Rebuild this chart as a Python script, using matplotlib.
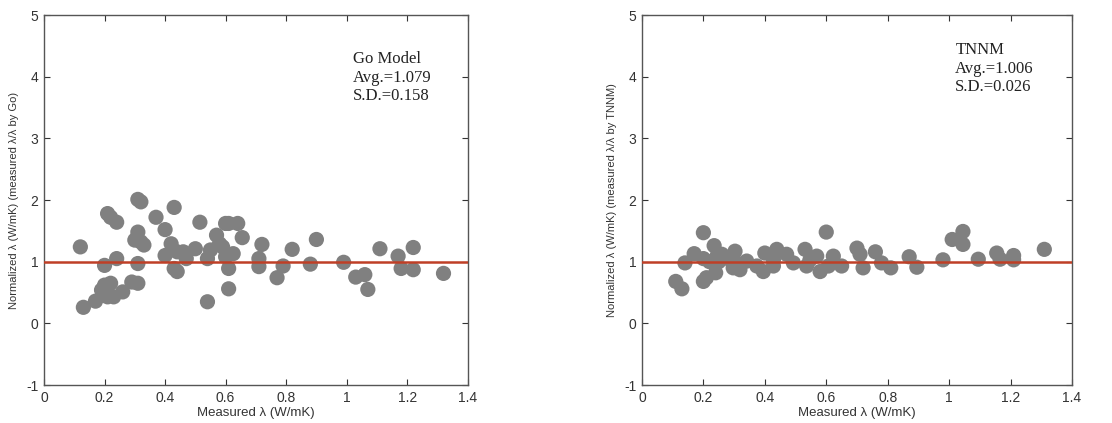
import numpy as np
import matplotlib.pyplot as plt
from matplotlib.ticker import FormatStrFormatter

plt.rcParams["font.family"] = ["Liberation Sans", "DejaVu Sans"]
plt.rcParams["axes.unicode_minus"] = False

# Go model: measured conductivity vs normalized ratio
go_x = [0.12, 0.13, 0.17, 0.19, 0.20, 0.22, 0.21, 0.23, 0.26, 0.20, 0.24, 0.21, 0.22, 0.24,
        0.29, 0.31, 0.31, 0.31, 0.32, 0.31, 0.30, 0.32, 0.33, 0.37, 0.40, 0.43, 0.40, 0.42,
        0.44, 0.46, 0.47, 0.50, 0.43, 0.44, 0.515, 0.55, 0.54, 0.57, 0.58, 0.59, 0.60, 0.61,
        0.64, 0.655, 0.625, 0.60, 0.61, 0.61, 0.54, 0.71, 0.71, 0.72, 0.77, 0.79, 0.82, 0.88,
        0.90, 0.99, 1.03, 1.06, 1.07, 1.11, 1.17, 1.18, 1.22, 1.22, 1.32]
go_y = [1.24, 0.26, 0.36, 0.54, 0.62, 0.65, 0.43, 0.43, 0.51, 0.94, 1.05, 1.78, 1.72, 1.64,
        0.67, 0.65, 0.97, 2.01, 1.97, 1.48, 1.35, 1.32, 1.27, 1.72, 1.52, 1.88, 1.10, 1.29,
        1.16, 1.16, 1.05, 1.21, 0.89, 0.84, 1.64, 1.19, 1.05, 1.43, 1.29, 1.24, 1.62, 1.62,
        1.62, 1.39, 1.13, 1.08, 0.89, 0.56, 0.35, 1.05, 0.92, 1.28, 0.74, 0.93, 1.20, 0.96,
        1.36, 0.99, 0.75, 0.79, 0.55, 1.21, 1.09, 0.89, 1.23, 0.87, 0.81]

# TNNM model
tn_x = [0.11, 0.13, 0.14, 0.17, 0.20, 0.20, 0.21, 0.24, 0.235, 0.20, 0.22, 0.245, 0.25, 0.26,
        0.28, 0.303, 0.308, 0.319, 0.297, 0.341, 0.374, 0.395, 0.40, 0.428, 0.439, 0.471, 0.428,
        0.493, 0.531, 0.536, 0.547, 0.569, 0.58, 0.607, 0.623, 0.60, 0.65, 0.70, 0.71, 0.72,
        0.76, 0.78, 0.81, 0.87, 0.895, 0.98, 1.01, 1.045, 1.045, 1.095, 1.155, 1.166, 1.21,
        1.21, 1.31]
tn_y = [0.68, 0.56, 0.98, 1.13, 1.47, 0.68, 0.74, 0.82, 1.26, 1.05, 1.00, 1.10, 1.00, 1.12,
        1.05, 1.17, 0.98, 0.87, 0.90, 1.01, 0.93, 0.84, 1.14, 1.03, 1.20, 1.12, 0.93,
        0.98, 1.20, 0.93, 1.03, 1.09, 0.84, 0.93, 1.09, 1.48, 0.93, 1.22, 1.12, 0.90,
        1.16, 0.98, 0.90, 1.08, 0.91, 1.03, 1.36, 1.49, 1.28, 1.04, 1.14, 1.04, 1.10,
        1.03, 1.20]

panels = [
    (go_x, go_y, "Go Model\nAvg.=1.079\nS.D.=0.158", 4.41,
     "Normalized \u03bb (W/mK) (measured \u03bb/\u03bb by Go)"),
    (tn_x, tn_y, "TNNM\nAvg.=1.006\nS.D.=0.026", 4.56,
     "Normalized \u03bb (W/mK) (measured \u03bb/\u03bb by TNNM)"),
]

fig = plt.figure(figsize=(11.12, 4.23), dpi=100)
rects = [[0.0396, 0.0898, 0.381, 0.8747], [0.5773, 0.0898, 0.3867, 0.8747]]

for rect, (xs, ys, note, note_y, ylab) in zip(rects, panels):
    ax = fig.add_axes(rect)
    ax.scatter(xs, ys, s=120, color="#808080", edgecolors="none", zorder=2)
    ax.axhline(1, color="#bf3f26", lw=1.8, zorder=3)
    ax.set_xlim(0, 1.4)
    ax.set_ylim(-1, 5)
    ax.set_xticks(np.arange(0, 1.41, 0.2))
    ax.set_yticks(range(-1, 6))
    ax.xaxis.set_major_formatter(FormatStrFormatter("%g"))
    ax.tick_params(direction="in", top=True, right=True, length=4,
                   labelsize=10, colors="#333333", pad=4)
    for sp in ax.spines.values():
        sp.set_color("#555555")
        sp.set_linewidth(1.0)
    ax.set_xlabel("Measured \u03bb (W/mK)", fontsize=9.5, color="#333333", labelpad=2)
    ax.set_ylabel(ylab, fontsize=8, color="#333333", labelpad=5)
    ax.text(1.02, note_y, note, fontsize=12, family="Liberation Serif",
            va="top", ha="left", linespacing=1.2, color="#222222")

plt.savefig("out.png", dpi=100)
